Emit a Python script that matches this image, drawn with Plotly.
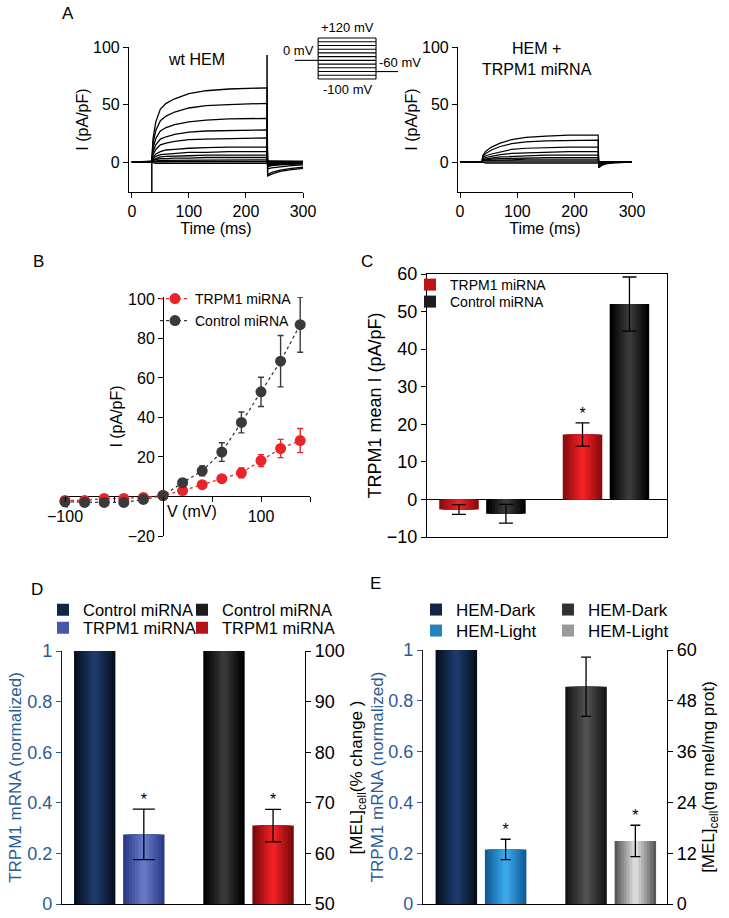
import plotly.graph_objects as go

# ======================= DATA =======================
# Panel A – current traces (pA/pF) sampled at these times (ms)
WT_TIMES = [0, 35, 37, 42, 50, 60, 75, 100, 130, 170, 237, 238, 245, 260, 280, 300]
WT_TRACES = [
    [0, 0.5, 20, 35, 46, 51, 55, 59.5, 62, 63.5, 64.5, -12, -10.5, -8, -6.5, -5.5],
    [0, 0.5, 16, 27.5, 36, 40, 43.5, 47, 49, 50, 51, -11, -9, -7, -5.5, -4.5],
    [0, 0.5, 12, 20.5, 27, 30, 32.5, 35, 36.5, 37.5, 38, -6, -5, -4, -3, -2.5],
    [0, 0.5, 9, 15, 20, 22, 24, 26, 27, 27.5, 28, -4, -3, -2.5, -2, -1.5],
    [0, 0.5, 6.5, 11, 15, 16.5, 18, 19.5, 20, 20.5, 21, -3, -2.5, -2, -1.5, -1],
    [0, 0.5, 4, 7, 9, 10.5, 11, 12, 12.5, 13, 13, -2, -2, -1.5, -1, -1],
    [0, 0.5, 3, 5, 6.5, 7, 7.5, 8.5, 8.5, 9, 9, -1.5, -1.5, -1, -0.5, -0.5],
    [0, 0.5, 2, 3, 4.5, 5, 5, 5.5, 6, 6, 6, -1, -1, -0.5, -0.5, 0],
    [0, 0.5, 1.5, 2, 3, 3, 3.5, 3.5, 4, 4, 4, -1, -0.5, -0.5, 0, 0],
    [0, 0.5, 1, 1, 1.5, 1.5, 2, 2, 2, 2, 2, 0, 0, 0, 0, 0],
    [0, 0.5, 0.5, 0.5, 0.5, 0.5, 0.5, 0.5, 0.5, 0.5, 0.5, 0.5, 0.5, 0.5, 0.5, 0.5],
    [0, 0.5, -0.5, -1, -1, -1, -1, -1, -1, -1, -1, 1, 1, 1, 0.5, 0.5],
]
WT_SPIKE_TIMES = [35, 237]
WT_SPIKE_PEAKS = [-30, 93]

KD_TIMES = [0, 38, 40, 45, 55, 70, 90, 115, 150, 190, 241, 242, 247, 255, 270, 300]
KD_TRACES = [
    [0, 0, 6, 9.5, 13, 16.5, 19.5, 21.5, 22.5, 23.5, 23.5, -5, -3, -1.5, -0.5, 0],
    [0, 0, 5, 7.5, 10.5, 13.5, 16, 17.5, 18.5, 19, 19, -4, -2.5, -1, -0.5, 0],
    [0, 0, 4, 5.5, 7, 9, 11, 12, 12.5, 13, 13, -3, -2, -1, 0, 0],
    [0, 0, 3, 4, 5, 6.5, 7.5, 8, 8.5, 9, 9, -2, -1.5, -0.5, 0, 0],
    [0, 0, 2.5, 3, 3.5, 4.5, 5, 5.5, 6, 6, 6, -1.5, -1, -0.5, 0, 0],
    [0, 0, 2, 2, 2.5, 3, 3.5, 3.5, 4, 4, 4, -1, -0.5, 0, 0, 0],
    [0, 0, 1.5, 1.5, 1.5, 2, 2, 2.5, 2.5, 2.5, 2.5, -0.5, 0, 0, 0, 0],
    [0, 0, 1, 1, 1, 1, 1, 1, 1, 1, 1, 0, 0, 0, 0, 0],
    [0, 0, 0.5, 0, 0, 0, 0, 0, 0, 0, 0, 0, 0, 0, 0, 0],
    [0, 0, 0, -1, -1, -1, -1, -1, -1, -1, -1, 0.5, 0.5, 0, 0, 0],
]

# Voltage protocol (schematic)
PROTO_STEPS_MV = [-100, -80, -60, -40, -20, 0, 20, 40, 60, 80, 100, 120]
PROTO_HOLD_MV = 0
PROTO_TAIL_MV = -60
PROTO_TIMES = [0, 40, 140, 178]

# Panel B – I/V relation
IV_VOLTAGES = [-100, -80, -60, -40, -20, 0, 20, 40, 60, 80, 100, 120, 140]
IV_TRPM1 = [-2, -2, -1, -1, -0.5, 0.5, 3, 6, 9, 12, 18.2, 24.3, 28.3]
IV_TRPM1_ERR = [1, 1, 1, 1, 1, 0.5, 1, 1, 1, 2.5, 3, 4.6, 6.1]
IV_CONTROL = [-2.7, -3, -3, -3, -1.5, 0.5, 7, 13, 22.5, 37.5, 53, 68.5, 87]
IV_CONTROL_ERR = [2.5, 1.5, 1.5, 1.5, 1.5, 1.5, 2, 2.5, 4.7, 5.3, 7.4, 13, 14]

# Panel C – mean TRPM1 current
C_GROUPS = ["inward", "outward"]
C_SERIES = ["TRPM1 miRNA", "Control miRNA"]
C_TRPM1 = [-2.7, 17.3]
C_TRPM1_ERR = [1.3, 3.1]
C_CONTROL = [-3.8, 52.0]
C_CONTROL_ERR = [2.5, 7.2]
C_TRPM1_SIG = [False, True]

# Panel D – miRNA knock-down
D_SERIES = ["Control miRNA", "TRPM1 miRNA"]
D_MRNA = [1.0, 0.275]
D_MRNA_ERR = [0, 0.1]
D_MEL = [100, 65.5]
D_MEL_ERR = [0, 3.2]
D_SIG = [False, True]

# Panel E – dark vs light
E_SERIES = ["HEM-Dark", "HEM-Light"]
E_MRNA = [1.0, 0.215]
E_MRNA_ERR = [0, 0.04]
E_MEL = [51.3, 14.9]
E_MEL_ERR = [7.0, 3.7]
E_SIG = [False, True]

# ======================= LAYOUT HELPERS =======================
W, H = 729, 918
FONT = "Liberation Sans, Arial, Helvetica, sans-serif"
BLUE_TXT = "#2b5b93"


def xd(a, b):
    return [a / W, b / W]


def yd(top, bottom):
    return [1 - bottom / H, 1 - top / H]


def px(a):
    return a / W


def py(b):
    return 1 - b / H


def hex_rgb(h):
    h = h.lstrip("#")
    return tuple(int(h[i:i + 2], 16) for i in (0, 2, 4))


def mix(c1, c2, t):
    a, b = hex_rgb(c1), hex_rgb(c2)
    return "rgb(%d,%d,%d)" % tuple(round(a[i] + (b[i] - a[i]) * t) for i in range(3))


fig = go.Figure()

# ---------------- Panel A ----------------
for row in WT_TRACES:
    fig.add_trace(go.Scatter(x=WT_TIMES, y=row, mode="lines", line=dict(color="black", width=1.3),
                             xaxis="x", yaxis="y", showlegend=False, hoverinfo="skip"))
sx, sy = [], []
for t, p in zip(WT_SPIKE_TIMES, WT_SPIKE_PEAKS):
    sx += [t, t, None]
    sy += [0, p, None]
fig.add_trace(go.Scatter(x=sx, y=sy, mode="lines", line=dict(color="black", width=1.5),
                         xaxis="x", yaxis="y", showlegend=False, hoverinfo="skip"))
for row in KD_TRACES:
    fig.add_trace(go.Scatter(x=KD_TIMES, y=row, mode="lines", line=dict(color="black", width=1.2),
                             xaxis="x2", yaxis="y2", showlegend=False, hoverinfo="skip"))

# protocol inset
t0, t1, t2, t3 = PROTO_TIMES
vmin, vmax = min(PROTO_STEPS_MV), max(PROTO_STEPS_MV)
prx = [t0, t1, None, t2, t3, None, t1, t1, None, t2, t2, None]
pry = [PROTO_HOLD_MV, PROTO_HOLD_MV, None, PROTO_TAIL_MV, PROTO_TAIL_MV, None,
       vmin, vmax, None, vmin, vmax, None]
for v in PROTO_STEPS_MV:
    prx += [t1, t2, None]
    pry += [v, v, None]
fig.add_trace(go.Scatter(x=prx, y=pry, mode="lines", line=dict(color="black", width=1.1),
                         xaxis="x3", yaxis="y3", showlegend=False, hoverinfo="skip"))

# ---------------- Panel B ----------------
RED = "#e8262a"
GREY = "#3a3a3a"
for name, vals, errs, col, leg in [("TRPM1 miRNA", IV_TRPM1, IV_TRPM1_ERR, RED, "legend"),
                                   ("Control miRNA", IV_CONTROL, IV_CONTROL_ERR, GREY, "legend2")]:
    fig.add_trace(go.Scatter(
        x=IV_VOLTAGES, y=vals, name=name, mode="lines+markers",
        line=dict(color=col, width=1.3, dash="dot"),
        marker=dict(color=col, size=11),
        error_y=dict(type="data", array=errs, color=col, thickness=1.4, width=3),
        xaxis="x4", yaxis="y4", legend=leg, cliponaxis=False, hoverinfo="skip"))


# ---------------- bars helper ----------------
def add_bar(g, off, val, err, edge, center, name, legend, xa, ya, width, cap, show_leg):
    n = 7
    for k in range(n):
        wk = width * (1 - k / n)
        col = mix(edge, center, k / (n - 1))
        last = k == n - 1
        eb = dict(type="data", array=[err], visible=True, color="black", thickness=1.3, width=cap) \
            if (last and err > 0) else dict(visible=False)
        fig.add_trace(go.Bar(
            x=[g], y=[val], width=[wk], offset=[off - wk / 2],
            marker=dict(color=col, line=dict(width=0)),
            name=name, legend=legend, legendgroup=legend + name,
            showlegend=(show_leg and k == 3), error_y=eb,
            xaxis=xa, yaxis=ya, hoverinfo="skip"))


def add_star(x, y, xa, ya):
    fig.add_trace(go.Scatter(x=[x], y=[y], mode="text", text=["*"], textposition="top center",
                             textfont=dict(size=16, color="black"), xaxis=xa, yaxis=ya,
                             showlegend=False, hoverinfo="skip", cliponaxis=False))


BW = 0.32
OFF = 0.19

# ---------------- Panel C ----------------
for g, grp in enumerate(C_GROUPS):
    add_bar(g, -OFF, C_TRPM1[g], C_TRPM1_ERR[g], "#8a0c0c", "#f02025", C_SERIES[0], "legend3",
            "x5", "y5", BW, 7, g == 0)
    add_bar(g, OFF, C_CONTROL[g], C_CONTROL_ERR[g], "#000000", "#3a3a3a", C_SERIES[1], "legend4",
            "x5", "y5", BW, 7, g == 0)
    if C_TRPM1_SIG[g]:
        add_star(g - OFF, C_TRPM1[g] + C_TRPM1_ERR[g], "x5", "y5")

# ---------------- Panel D ----------------
D_COLS_MRNA = [("#06101f", "#1d3a6a"), ("#2a3a86", "#6478c6")]
D_COLS_MEL = [("#000000", "#383838"), ("#7a0a0a", "#f02025")]
D_LEG_MRNA = ["legend5", "legend6"]
D_LEG_MEL = ["legend7", "legend8"]
for i, name in enumerate(D_SERIES):
    off = -OFF if i == 0 else OFF
    add_bar(0, off, D_MRNA[i], D_MRNA_ERR[i], D_COLS_MRNA[i][0], D_COLS_MRNA[i][1], name,
            D_LEG_MRNA[i], "x6", "y6", BW, 11, True)
    add_bar(1, off, D_MEL[i], D_MEL_ERR[i], D_COLS_MEL[i][0], D_COLS_MEL[i][1], name,
            D_LEG_MEL[i], "x6", "y7", BW, 8, True)
    if D_SIG[i]:
        add_star(0 + off, D_MRNA[i] + D_MRNA_ERR[i], "x6", "y6")
        add_star(1 + off, D_MEL[i] + D_MEL_ERR[i], "x6", "y7")

# ---------------- Panel E ----------------
E_COLS_MRNA = [("#06101f", "#1d3a6a"), ("#0f5c98", "#3aa8e8")]
E_COLS_MEL = [("#151515", "#505050"), ("#5a5a5a", "#dadada")]
E_LEG_MRNA = ["legend9", "legend10"]
E_LEG_MEL = ["legend11", "legend12"]
for i, name in enumerate(E_SERIES):
    off = -OFF if i == 0 else OFF
    add_bar(0, off, E_MRNA[i], E_MRNA_ERR[i], E_COLS_MRNA[i][0], E_COLS_MRNA[i][1], name,
            E_LEG_MRNA[i], "x7", "y8", BW, 5, True)
    add_bar(1, off, E_MEL[i], E_MEL_ERR[i], E_COLS_MEL[i][0], E_COLS_MEL[i][1], name,
            E_LEG_MEL[i], "x7", "y9", BW, 5, True)
    if E_SIG[i]:
        add_star(0 + off, E_MRNA[i] + E_MRNA_ERR[i], "x7", "y8")
        add_star(1 + off, E_MEL[i] + E_MEL_ERR[i], "x7", "y9")

# ======================= AXES =======================
ax_common = dict(showgrid=False, zeroline=False, showline=True, linecolor="black", linewidth=1.2,
                 ticks="outside", ticklen=5, tickwidth=1.2, tickcolor="black", automargin=False)
ttl16 = dict(size=16)

layout_axes = {}
# Panel A left
layout_axes["xaxis"] = dict(ax_common, domain=xd(129, 303), range=[-5, 300], anchor="y",
                            tickvals=[0, 100, 200, 300], tickfont=dict(size=16),
                            title=dict(text="Time (ms)", font=ttl16, standoff=1))
layout_axes["yaxis"] = dict(ax_common, domain=yd(47, 192), range=[-26, 100], anchor="x",
                            tickvals=[0, 50, 100], tickfont=dict(size=16),
                            title=dict(text="I (pA/pF)", font=ttl16, standoff=0))
# Panel A right
layout_axes["xaxis2"] = dict(ax_common, domain=xd(458, 632), range=[-3.5, 300], anchor="y2",
                             tickvals=[0, 100, 200, 300], tickfont=dict(size=16),
                             title=dict(text="Time (ms)", font=ttl16, standoff=1))
layout_axes["yaxis2"] = dict(ax_common, domain=yd(47, 192), range=[-26, 100], anchor="x2",
                             tickvals=[0, 50, 100], tickfont=dict(size=16),
                             title=dict(text="I (pA/pF)", font=ttl16, standoff=0))
# Inset
pad_mv = 4 / (41 / (vmax - vmin))
layout_axes["xaxis3"] = dict(domain=xd(295, 398), range=[t0, t3], visible=False, anchor="y3")
layout_axes["yaxis3"] = dict(domain=yd(34, 83), range=[vmin - pad_mv, vmax + pad_mv], visible=False,
                             anchor="x3")

# Panel B (axes crossing at origin)
bx0, bx1 = 65, 310
by0, by1 = 297, 536
bxr = [-100, 150]
byr = [-20, 101]
x_zero_px = bx0 + (0 - bxr[0]) / (bxr[1] - bxr[0]) * (bx1 - bx0)
y_zero_px = by0 + (byr[1] - 0) / (byr[1] - byr[0]) * (by1 - by0)
layout_axes["xaxis4"] = dict(domain=xd(bx0, bx1), range=bxr, anchor="free", position=py(y_zero_px),
                             showgrid=False, showline=False, zeroline=True, zerolinecolor="black",
                             zerolinewidth=1.3, ticks="outside", ticklen=5, tickwidth=1.2,
                             tickcolor="black", tickvals=[-100, 100], tickfont=dict(size=16),
                             minor=dict(tickmode="array", tickvals=[-50, 0, 50, 150], ticks="outside",
                                        ticklen=5, tickwidth=1.2, tickcolor="black"),
                             automargin=False)
layout_axes["yaxis4"] = dict(domain=yd(by0, by1), range=byr, anchor="free", position=px(x_zero_px),
                             showgrid=False, showline=False, zeroline=True, zerolinecolor="black",
                             zerolinewidth=1.3, ticks="outside", ticklen=5, tickwidth=1.2,
                             tickcolor="black", tickvals=[-20, 20, 40, 60, 80, 100],
                             tickfont=dict(size=16), automargin=False,
                             title=dict(text="I (pA/pF)", font=ttl16, standoff=0))

# Panel C
layout_axes["xaxis5"] = dict(domain=xd(427, 667), range=[-0.449, 1.494], anchor="y5", showgrid=False,
                             zeroline=False, showline=True, mirror=True, linecolor="black",
                             linewidth=1.2, showticklabels=False, ticks="")
layout_axes["yaxis5"] = dict(ax_common, domain=yd(274, 537), range=[-10, 60], anchor="x5", dtick=10,
                             mirror=True, zeroline=True, zerolinecolor="black", zerolinewidth=1.2,
                             tickfont=dict(size=18),
                             title=dict(text="TRPM1 mean I (pA/pF)", font=dict(size=18), standoff=0))

# Panel D
layout_axes["xaxis6"] = dict(domain=xd(62, 305), range=[-0.443, 1.437], anchor="y6", showgrid=False,
                             zeroline=False, showline=True, linecolor="black", linewidth=1.2,
                             showticklabels=False, ticks="")
layout_axes["yaxis6"] = dict(ax_common, domain=yd(651, 904), range=[0, 1], anchor="x6", dtick=0.2,
                             linecolor="#1a1a1a", tickcolor=BLUE_TXT,
                             tickfont=dict(size=18, color=BLUE_TXT),
                             title=dict(text="TRPM1 mRNA (normalized)", font=dict(size=17, color=BLUE_TXT),
                                        standoff=1))
layout_axes["yaxis7"] = dict(ax_common, range=[50, 100], anchor="x6", overlaying="y6", side="right",
                             dtick=10, tickfont=dict(size=18),
                             title=dict(text="[MEL]<sub>cell</sub>(% change )", font=dict(size=17),
                                        standoff=6))

# Panel E
layout_axes["xaxis7"] = dict(domain=xd(423, 667), range=[-0.447, 1.434], anchor="y8", showgrid=False,
                             zeroline=False, showline=True, linecolor="black", linewidth=1.2,
                             showticklabels=False, ticks="")
layout_axes["yaxis8"] = dict(ax_common, domain=yd(650, 904), range=[0, 1], anchor="x7", dtick=0.2,
                             linecolor="#1a1a1a", tickcolor=BLUE_TXT,
                             tickfont=dict(size=18, color=BLUE_TXT),
                             title=dict(text="TRPM1 mRNA (normalized)", font=dict(size=17, color=BLUE_TXT),
                                        standoff=0))
layout_axes["yaxis9"] = dict(ax_common, range=[0, 60], anchor="x7", overlaying="y8", side="right",
                             dtick=12, tickfont=dict(size=18),
                             title=dict(text="[MEL]<sub>cell</sub>(mg mel/mg prot)", font=dict(size=17),
                                        standoff=6))

# ======================= LEGENDS (one entry each, placed like the original) =======================
leg_common = dict(xanchor="left", yanchor="middle", bgcolor="rgba(0,0,0,0)", borderwidth=0,
                  tracegroupgap=0, itemclick=False, itemdoubleclick=False, itemwidth=30)
LEG_POS = {  # name: (left px, row centre px, font size)
    "legend": (155, 299, 14), "legend2": (155, 321, 14),
    "legend3": (410, 285, 14), "legend4": (410, 302, 14),
    "legend5": (43, 610, 16.5), "legend6": (43, 628, 16.5),
    "legend7": (182, 610, 16.5), "legend8": (182, 628, 16.5),
    "legend9": (416, 610, 17), "legend10": (416, 631, 17),
    "legend11": (548, 610, 17), "legend12": (548, 631, 17),
}
legends = {k: dict(leg_common, x=px(v[0]), y=py(v[1]), font=dict(size=v[2])) for k, v in LEG_POS.items()}

# ======================= ANNOTATIONS =======================
ann = []
for lab, x, y in [("A", 68, 14), ("B", 38, 262), ("C", 367, 262), ("D", 37, 589), ("E", 375, 583)]:
    ann.append(dict(text=lab, x=px(x), y=py(y), xref="paper", yref="paper", showarrow=False,
                    font=dict(size=17), xanchor="center", yanchor="middle"))
ann.append(dict(text="wt HEM", x=114, y=89, xref="x", yref="y", showarrow=False, font=dict(size=16)))
ann.append(dict(text="HEM +<br>TRPM1 miRNA", x=134, y=89.5, xref="x2", yref="y2", showarrow=False,
                font=dict(size=16)))
ann.append(dict(text="+120 mV", x=(t1 + t2) / 2, y=vmax, xref="x3", yref="y3", showarrow=False,
                yanchor="bottom", font=dict(size=13), yshift=1))
ann.append(dict(text="-100 mV", x=(t1 + t2) / 2, y=vmin, xref="x3", yref="y3", showarrow=False,
                yanchor="top", font=dict(size=13), yshift=-1))
ann.append(dict(text="0 mV", x=t1, y=PROTO_HOLD_MV, xref="x3", yref="y3", showarrow=False,
                xanchor="right", yanchor="bottom", font=dict(size=13), xshift=-2))
ann.append(dict(text="-60 mV", x=t2, y=PROTO_TAIL_MV, xref="x3", yref="y3", showarrow=False,
                xanchor="left", yanchor="bottom", font=dict(size=13), xshift=1))
ann.append(dict(text="V (mV)", x=0, y=0, xref="x4", yref="y4", showarrow=False, xanchor="left",
                yanchor="top", font=dict(size=16), xshift=2, yshift=-5))

fig.update_layout(
    width=W, height=H, margin=dict(l=0, r=0, t=0, b=0),
    paper_bgcolor="white", plot_bgcolor="white",
    font=dict(family=FONT, size=16, color="black"),
    barmode="overlay", annotations=ann, **layout_axes, **legends,
)

fig.write_html("out.html", config={"displayModeBar": False},
               post_script="document.body.style.margin='0';document.body.style.padding='0';")
